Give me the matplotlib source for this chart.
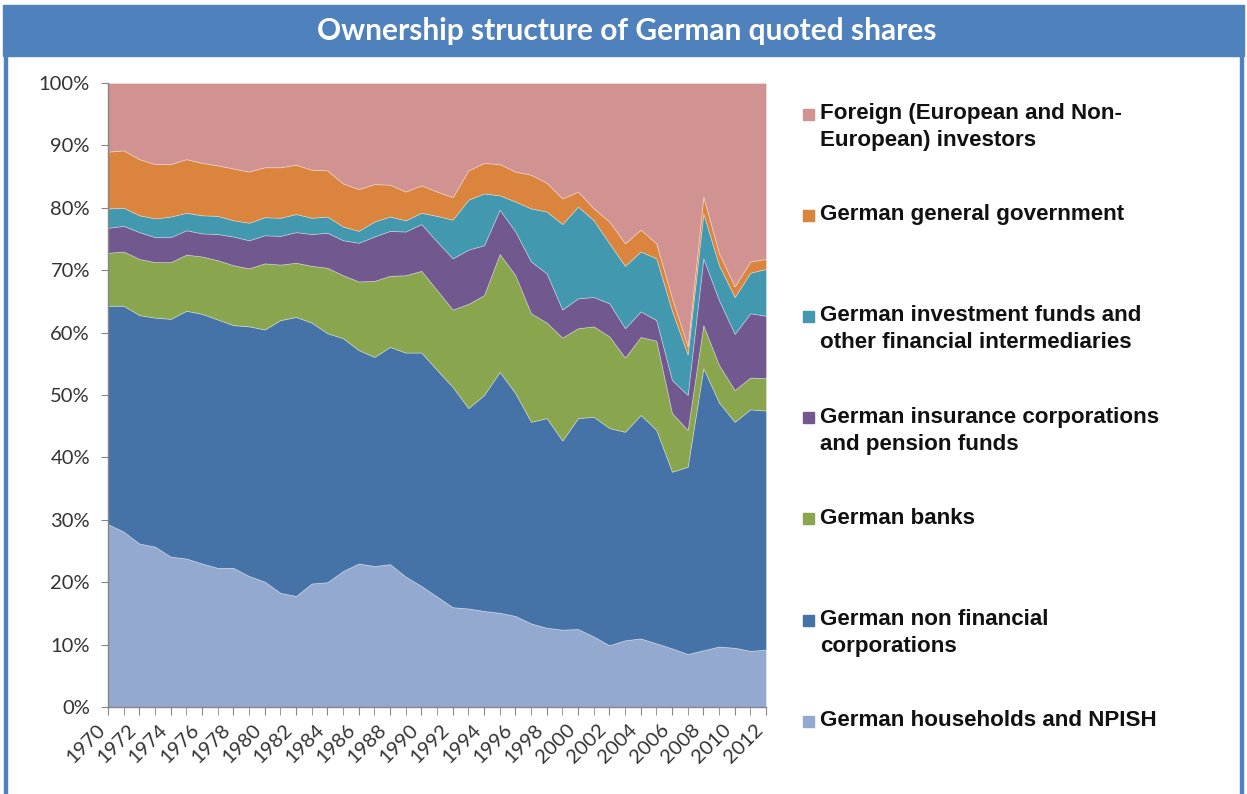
import matplotlib
matplotlib.use("Agg")
import matplotlib.pyplot as plt
from matplotlib.patches import Rectangle
import matplotlib.transforms as mtransforms

years = list(range(1970, 2013))

households = [29.3, 28.1, 26.2, 25.7, 24.1, 23.8, 23.0, 22.3, 22.3, 21.0,
              20.1, 18.3, 17.8, 19.8, 20.0, 21.8, 23.0, 22.6, 22.9, 20.9,
              19.4, 17.7, 16.0, 15.8, 15.4, 15.1, 14.6, 13.4, 12.7, 12.4,
              12.5, 11.3, 9.9, 10.7, 11.0, 10.2, 9.4, 8.5, 9.1, 9.7,
              9.5, 9.0, 9.2]
nonfin = [35.0, 36.2, 36.6, 36.7, 38.1, 39.7, 40.0, 39.8, 38.9, 40.0,
          40.4, 43.7, 44.7, 41.8, 39.9, 37.3, 34.2, 33.5, 34.8, 35.9,
          37.4, 36.3, 35.3, 32.1, 34.6, 38.6, 35.7, 32.3, 33.6, 30.3,
          33.8, 35.2, 34.8, 33.4, 35.8, 34.2, 28.3, 30.0, 45.2, 39.1,
          36.2, 38.7, 38.3]
banks = [8.5, 8.7, 9.0, 8.9, 9.1, 9.0, 9.2, 9.5, 9.6, 9.3,
         10.6, 8.9, 8.7, 9.1, 10.5, 10.1, 11.0, 12.2, 11.4, 12.4,
         13.1, 12.8, 12.4, 16.7, 16.0, 18.9, 18.9, 17.4, 15.3, 16.5,
         14.4, 14.5, 14.7, 11.9, 12.5, 14.3, 9.4, 5.9, 6.9, 6.0,
         5.1, 5.1, 5.2]
insurance = [4.0, 4.1, 4.3, 4.0, 4.0, 3.9, 3.7, 4.2, 4.6, 4.5,
             4.5, 4.6, 4.9, 5.1, 5.6, 5.6, 6.2, 7.1, 7.2, 7.0,
             7.5, 7.8, 8.2, 8.7, 8.0, 7.1, 7.0, 8.3, 7.9, 4.5,
             4.8, 4.7, 5.3, 4.7, 4.1, 3.3, 5.3, 5.6, 10.7, 10.4,
             9.0, 10.3, 10.0]
funds = [3.1, 2.9, 2.7, 3.0, 3.3, 2.8, 2.9, 2.9, 2.6, 2.8,
         2.9, 2.9, 2.9, 2.6, 2.6, 2.2, 1.9, 2.4, 2.3, 1.8,
         1.8, 4.1, 6.2, 8.0, 8.3, 2.3, 4.8, 8.5, 9.9, 13.7,
         14.7, 12.3, 9.6, 10.0, 9.6, 9.9, 11.1, 6.5, 7.2, 5.6,
         5.9, 6.5, 7.5]
government = [9.1, 9.2, 9.0, 8.7, 8.4, 8.6, 8.4, 8.1, 8.3, 8.2,
              8.0, 8.1, 7.9, 7.7, 7.4, 6.9, 6.7, 6.0, 5.1, 4.6,
              4.4, 3.9, 3.6, 4.7, 4.9, 5.0, 4.8, 5.4, 4.6, 4.1,
              2.4, 1.9, 3.5, 3.6, 3.5, 2.4, 2.0, 1.3, 2.7, 1.9,
              1.7, 1.8, 1.6]
foreign = [11.0, 10.8, 12.2, 13.0, 13.0, 12.2, 12.8, 13.2, 13.7, 14.2,
           13.5, 13.5, 13.1, 13.9, 14.0, 16.1, 17.0, 16.2, 16.3, 17.4,
           16.4, 17.4, 18.3, 14.0, 12.8, 13.0, 14.2, 14.7, 16.0, 18.5,
           17.4, 20.1, 22.2, 25.7, 23.5, 25.7, 34.5, 42.2, 18.2, 27.3,
           32.6, 28.6, 28.2]

series_labels = [
    "German households and NPISH",
    "German non financial\ncorporations",
    "German banks",
    "German insurance corporations\nand pension funds",
    "German investment funds and\nother financial intermediaries",
    "German general government",
    "Foreign (European and Non-\nEuropean) investors",
]
colors = ["#93A9CF", "#4572A7", "#89A54E", "#71588F", "#4198AF", "#DB843D", "#D19392"]
title = "Ownership structure of German quoted shares"

W, H = 1247, 794
fig = plt.figure(figsize=(W / 100, H / 100), dpi=100)
fig.patch.set_facecolor("white")

frame_blue = "#4F81BD"
fig.patches.append(Rectangle((3 / W, 1 - 56 / H), 1241 / W, 51 / H,
                             transform=fig.transFigure, color=frame_blue, zorder=0))
fig.patches.append(Rectangle((4 / W, 0), 3 / W, 1 - 56 / H,
                             transform=fig.transFigure, color=frame_blue, zorder=0))
fig.patches.append(Rectangle((1240 / W, 0), 3 / W, 1 - 56 / H,
                             transform=fig.transFigure, color=frame_blue, zorder=0))
fig.text(627 / W, 1 - 31 / H, title, color="white", fontsize=21.5, fontweight="bold",
         family=["Lato", "DejaVu Sans"], ha="center", va="center")

ax = fig.add_axes([108 / W, 87 / H, 658 / W, 624 / H])
data = [households, nonfin, banks, insurance, funds, government, foreign]
ax.stackplot(years, *data, colors=colors, linewidth=0.6, edgecolor=(1, 1, 1, 0.35))
ax.set_xlim(1970, 2012)
ax.set_ylim(0, 100)

axis_grey = "#868686"
for s in ["top", "right"]:
    ax.spines[s].set_visible(False)
for s in ["left", "bottom"]:
    ax.spines[s].set_color(axis_grey)
    ax.spines[s].set_linewidth(1.0)

tick_font = ["Lato", "DejaVu Sans"]
ax.set_yticks(range(0, 101, 10))
ax.set_yticklabels([f"{v}%" for v in range(0, 101, 10)],
                   family=tick_font, fontsize=14.5, color="#333333")
ax.set_xticks(years[::2])
ax.set_xticks(years, minor=True)
ax.set_xticklabels([str(y) for y in years[::2]], rotation=45, ha="right", va="top",
                   family=tick_font, fontsize=14.5, color="#333333")
offset = mtransforms.ScaledTranslation(9 / 100, -9 / 100, fig.dpi_scale_trans)
for lab in ax.get_xticklabels():
    lab.set_transform(lab.get_transform() + offset)
ax.tick_params(axis="x", which="both", direction="out", length=6, color=axis_grey, pad=4)
ax.tick_params(axis="y", direction="out", length=5, color=axis_grey, pad=8)

for i, (lab, col) in enumerate(zip(series_labels[::-1], colors[::-1])):
    yc = 114 + 101.2 * i
    fig.patches.append(Rectangle((803 / W, 1 - (yc + 5.5) / H), 11 / W, 11 / H,
                                 transform=fig.transFigure, color=col))
    fig.text(820 / W, 1 - (yc - 11) / H, lab, family=["Liberation Sans", "DejaVu Sans"],
             fontweight="bold", fontsize=16.1, color="#111111", va="top", ha="left",
             linespacing=1.38)

fig.savefig("out.png", dpi=100)
